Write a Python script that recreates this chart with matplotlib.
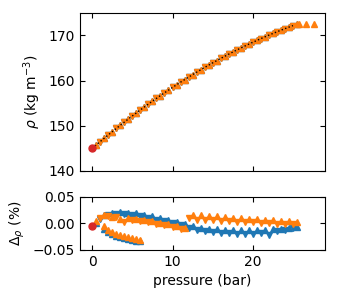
import matplotlib
matplotlib.use('Agg')
import matplotlib.pyplot as plt

plt.rcParams['font.size'] = 10

# pressurisation points (half-bar) and depressurisation points (whole bar)
p_up = [0.5, 1.5, 2.5, 3.5, 4.5, 5.5, 6.5, 7.5, 8.5, 9.5, 10.5, 11.5, 12.5,
        13.5, 14.5, 15.5, 16.5, 17.5, 18.5, 19.5, 20.5, 21.5, 22.5, 23.5,
        24.5, 25.5]
p_down = [1, 2, 3, 4, 5, 6, 7, 8, 9, 10, 11, 12, 13, 14, 15, 16, 17, 18, 19,
          20, 21, 22, 23, 24, 25]

rho_up = [145.76, 147.25, 148.70, 150.12, 151.51, 152.86, 154.17, 155.45,
          156.70, 157.91, 159.08, 160.22, 161.33, 162.40, 163.43, 164.43,
          165.40, 166.33, 167.22, 168.08, 168.91, 169.70, 170.45, 171.17,
          171.86, 172.51]
rho_down = [146.51, 147.98, 149.42, 150.82, 152.19, 153.52, 154.82, 156.08,
            157.31, 158.50, 159.66, 160.78, 161.87, 162.92, 163.94, 164.92,
            165.87, 166.78, 167.66, 168.50, 169.31, 170.08, 170.82, 171.52,
            172.19]

# extra points above the fitted range
p_extra = [25.7, 26.6, 27.6]
rho_extra = [172.45, 172.45, 172.45]

# fitted equation of state
p_fit = [0, 1, 2, 3, 4, 5, 6, 7, 8, 9, 10, 11, 12, 13, 14, 15, 16, 17, 18,
         19, 20, 21, 22, 23, 24, 25]
rho_fit = [145.00, 146.51, 147.98, 149.42, 150.82, 152.19, 153.52, 154.82,
           156.08, 157.31, 158.50, 159.66, 160.78, 161.87, 162.92, 163.94,
           164.92, 165.87, 166.78, 167.66, 168.50, 169.31, 170.08, 170.82,
           171.52, 172.19]

# reference (vacuum) point
p_ref = [0.0]
rho_ref = [145.0]
dev_ref = [-0.005]

# relative deviations (%)
dev_blue_up = [0.000, 0.015, 0.020, 0.021, 0.020, 0.019, 0.016, 0.013, 0.010,
               0.006, 0.002, -0.002, -0.005, -0.008, -0.010, -0.011, -0.012,
               -0.012, -0.013, -0.013, -0.012, -0.012, -0.011, -0.010,
               -0.009, -0.007]
dev_blue_down = [0.008, 0.016, 0.018, 0.017, 0.016, 0.013, 0.010, 0.007,
                 0.004, 0.000, -0.004, -0.008, -0.012, -0.015, -0.017,
                 -0.018, -0.019, -0.020, -0.020, -0.020, -0.019, -0.021,
                 -0.015, -0.012, -0.009]
dev_orange_up = [0.005, 0.015, 0.012, 0.008, 0.010, 0.009, 0.006, 0.004,
                 0.001, -0.002, -0.005, -0.008, 0.016, 0.015, 0.014, 0.013,
                 0.012, 0.011, 0.010, 0.009, 0.008, 0.007, 0.006, 0.005,
                 0.004, 0.002]
dev_orange_down = [0.010, 0.014, 0.012, 0.002, 0.006, 0.005, 0.002, -0.001,
                   -0.004, -0.006, -0.010, 0.010, 0.006, 0.007, 0.006, 0.005,
                   0.004, 0.003, 0.002, 0.002, 0.001, 0.000, -0.001, -0.001,
                   -0.002]

# short low-pressure run
p_short = [1.5, 2.0, 2.5, 3.0, 3.5, 4.0, 4.5, 5.0, 5.5, 6.0]
dev_blue_short = [-0.010, -0.016, -0.020, -0.024, -0.026, -0.028, -0.030,
                  -0.031, -0.033, -0.034]
dev_orange_short = [-0.005, -0.012, -0.017, -0.020, -0.022, -0.024, -0.026,
                    -0.028, -0.030, -0.032]

blue = '#1f77b4'
orange = '#ff7f0e'
red = '#d62728'
ms_top = 4.5
ms_bot = 5

fig = plt.figure(figsize=(3.38, 3.0), dpi=100)
ax1 = fig.add_axes([0.237, 0.43, 0.725, 0.527])
ax2 = fig.add_axes([0.237, 0.167, 0.725, 0.177])

# density
ax1.plot(p_up, rho_up, '^', color=blue, ms=ms_top, ls='none')
ax1.plot(p_down, rho_down, 'v', color=blue, ms=ms_top, ls='none')
ax1.plot(p_up, rho_up, '^', color=orange, ms=ms_top, ls='none')
ax1.plot(p_down, rho_down, 'v', color=orange, ms=ms_top, ls='none')
ax1.plot(p_extra, rho_extra, '^', color=orange, ms=ms_top, ls='none')
ax1.plot(p_fit, rho_fit, 'k:', lw=1)
ax1.plot(p_ref, rho_ref, 'o', color=red, ms=5)

ax1.set_ylim(140, 175)
ax1.set_yticks([140, 150, 160, 170])
ax1.set_ylabel(r'$\rho$ (kg m$^{-3}$)')
ax1.set_xlim(-1.5, 29)
ax1.set_xticks([0, 10, 20])
ax1.tick_params(direction='in', top=True, right=True, labelbottom=False)

# deviations
ax2.plot(p_short, dev_blue_short, '^', color=blue, ms=ms_bot, ls='none')
ax2.plot(p_up, dev_blue_up, '^', color=blue, ms=ms_bot, ls='none')
ax2.plot(p_down, dev_blue_down, 'v', color=blue, ms=ms_bot, ls='none')
ax2.plot(p_short, dev_orange_short, '^', color=orange, ms=ms_bot, ls='none')
ax2.plot(p_up, dev_orange_up, '^', color=orange, ms=ms_bot, ls='none')
ax2.plot(p_down, dev_orange_down, 'v', color=orange, ms=ms_bot, ls='none')
ax2.plot(p_ref, dev_ref, 'o', color=red, ms=5)

ax2.set_ylim(-0.05, 0.05)
ax2.set_yticks([-0.05, 0.0, 0.05])
ax2.set_ylabel(r'$\Delta_\rho$ (%)')
ax2.set_xlim(-1.5, 29)
ax2.set_xticks([0, 10, 20])
ax2.set_xlabel('pressure (bar)')
ax2.tick_params(direction='in', top=True, right=True)

fig.savefig('out.png', dpi=100)
